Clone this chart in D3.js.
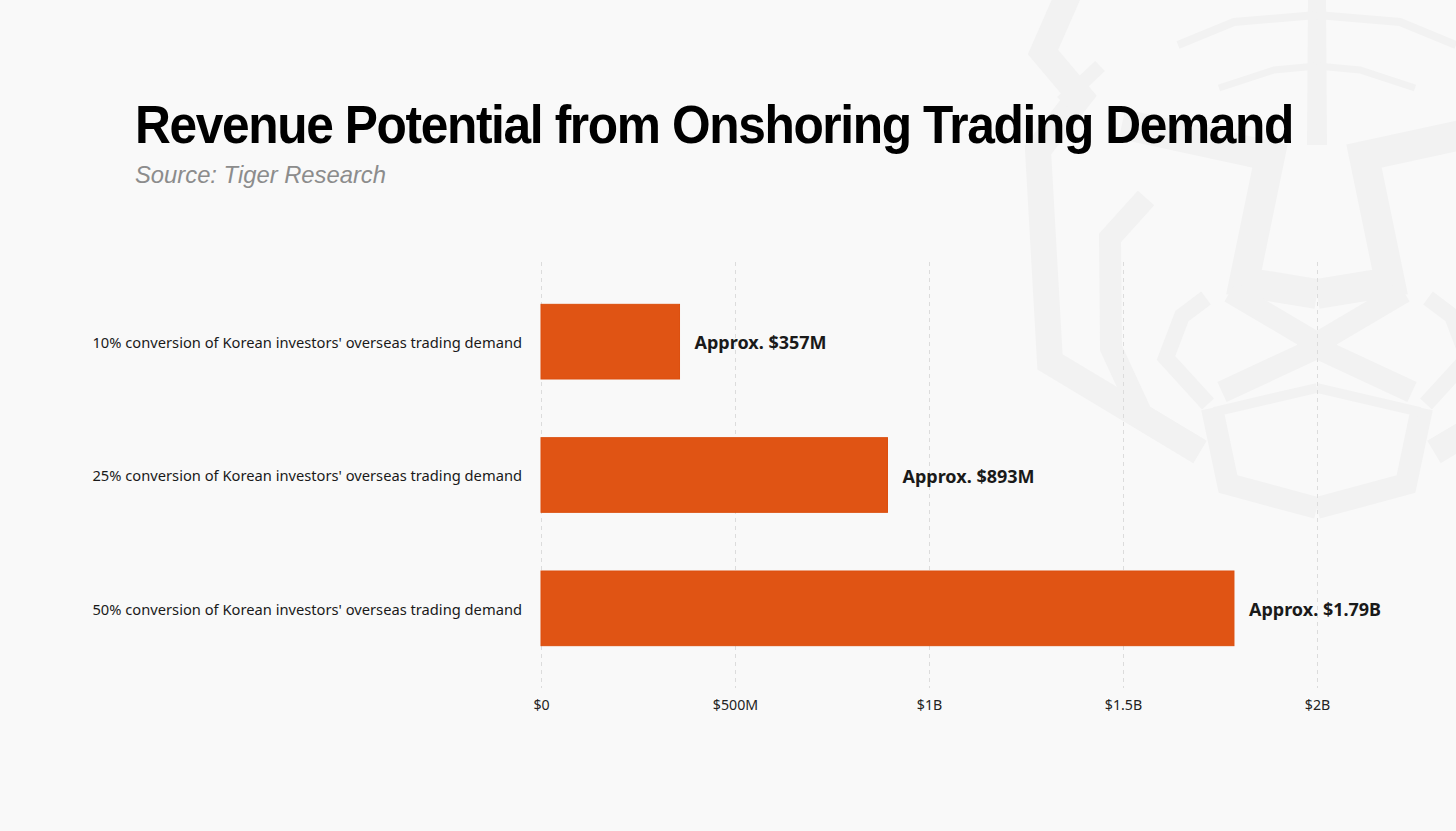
<!DOCTYPE html>
<html>
<head>
<meta charset="utf-8">
<script src="https://cdn.jsdelivr.net/npm/d3@7/dist/d3.min.js"></script>
<style>
  html, body { margin: 0; padding: 0; background: #f9f9f9; }
  svg { display: block; }
</style>
</head>
<body>
<div id="viz"></div>
<script>
// chart data
var categories = [
  "10% conversion of Korean investors' overseas trading demand",
  "25% conversion of Korean investors' overseas trading demand",
  "50% conversion of Korean investors' overseas trading demand"
];
var revenue = [357e6, 893e6, 1786e6];
var valueLabels = ["Approx. $357M", "Approx. $893M", "Approx. $1.79B"];
var tickValues = [0, 500e6, 1000e6, 1500e6, 2000e6];
var tickLabels = ["$0", "$500M", "$1B", "$1.5B", "$2B"];

var W = 1456, H = 831;

var svg = d3.select("#viz").append("svg")
    .attr("width", W)
    .attr("height", H);

svg.append("rect").attr("width", W).attr("height", H).attr("fill", "#f9f9f9");

// background tiger watermark (decoration only), mirrored about x = 1317
var cx = 1317;
var strokes = [
  {w: 26, p: [[1068,-5],[1043,52],[1080,96],[1038,150],[1050,362],[1200,452]]},
  {w: 14, p: [[1062,102],[1100,66]]},
  {w: 22, p: [[1146,198],[1110,238],[1111,348],[1142,415],[1200,450]]},
  {w: 30, p: [[1122,124],[1270,156],[1244,282],[1317,294]]},
  {w: 22, p: [[1230,292],[1308,338],[1308,352],[1222,392]]},
  {w: 16, p: [[1206,298],[1182,316],[1166,358],[1208,404]]},
  {w: 22, p: [[1212,408],[1228,484],[1317,508]]},
  {w: 10, p: [[1214,412],[1317,388]]},
  {w: 14, p: [[1315,-5],[1314,145]]},
  {w: 8,  p: [[1178,45],[1234,22],[1317,15]]},
  {w: 7,  p: [[1219,88],[1274,70],[1317,66]]}
];
var wm = svg.append("g").attr("fill", "none").attr("stroke", "#f2f2f2")
    .attr("stroke-linejoin", "miter");
var line = d3.line();
strokes.forEach(function(s){
  wm.append("path").attr("d", line(s.p)).attr("stroke-width", s.w);
  wm.append("path").attr("d", line(s.p.map(function(q){ return [2*cx - q[0], q[1]]; })))
    .attr("stroke-width", s.w);
});

// title + source
svg.append("text")
    .attr("x", 135).attr("y", 143)
    .attr("textLength", 1158).attr("lengthAdjust", "spacingAndGlyphs")
    .style("font-family", "'Liberation Sans', Arial, sans-serif")
    .style("font-weight", "bold")
    .style("font-size", "54px")
    .style("letter-spacing", "-1.5px")
    .attr("fill", "#000")
    .text("Revenue Potential from Onshoring Trading Demand");

svg.append("text")
    .attr("x", 135).attr("y", 183)
    .attr("textLength", 251).attr("lengthAdjust", "spacingAndGlyphs")
    .style("font-family", "'Liberation Sans', Arial, sans-serif")
    .style("font-style", "italic")
    .style("font-size", "24px")
    .attr("fill", "#8c8c8c")
    .text("Source: Tiger Research");

// scales
var x = d3.scaleLinear().domain([0, 2000e6]).range([541, 1317]);
var y = d3.scaleBand().domain(categories).range([275, 675])
    .paddingInner(0.44).paddingOuter(0.22);

// gridlines
svg.append("g").selectAll("line")
    .data(tickValues).enter().append("line")
    .attr("x1", function(d){ return x(d) + 0.5; })
    .attr("x2", function(d){ return x(d) + 0.5; })
    .attr("y1", 262).attr("y2", 688)
    .attr("stroke", "#dcdcdc")
    .attr("stroke-width", 1)
    .attr("stroke-dasharray", "4,4");

// x axis labels
var xAxis = d3.axisBottom(x)
    .tickValues(tickValues)
    .tickSize(0)
    .tickFormat(function(d, i){ return tickLabels[i]; });
var gx = svg.append("g").attr("transform", "translate(0,697)").call(xAxis);
gx.select(".domain").remove();
gx.selectAll("text")
    .style("font-family", "'Noto Sans', 'Open Sans', sans-serif")
    .style("font-size", "14.2px")
    .attr("fill", "#222");

// bars
svg.append("g").selectAll("rect")
    .data(revenue).enter().append("rect")
    .attr("x", x(0))
    .attr("y", function(d, i){ return y(categories[i]); })
    .attr("width", function(d){ return x(d) - x(0); })
    .attr("height", y.bandwidth())
    .attr("fill", "#e05414")
    .attr("stroke", "#dc4f0f")
    .attr("stroke-width", 1);

// category labels
var yAxis = d3.axisLeft(y).tickSize(0).tickPadding(0);
var gy = svg.append("g").attr("transform", "translate(522,1.5)").call(yAxis);
gy.select(".domain").remove();
gy.selectAll("text")
    .style("font-family", "'Noto Sans', 'Open Sans', sans-serif")
    .style("font-size", "14.7px")
    .attr("fill", "#1a1a1a");

// value labels
svg.append("g").selectAll("text")
    .data(revenue).enter().append("text")
    .attr("x", function(d){ return x(d) + 15; })
    .attr("y", function(d, i){ return y(categories[i]) + y.bandwidth() / 2 + 1.5; })
    .attr("dy", "0.35em")
    .style("font-family", "'Noto Sans', 'Open Sans', sans-serif")
    .style("font-weight", "bold")
    .style("font-size", "18px")
    .attr("fill", "#1a1a1a")
    .text(function(d, i){ return valueLabels[i]; });
</script>
</body>
</html>
